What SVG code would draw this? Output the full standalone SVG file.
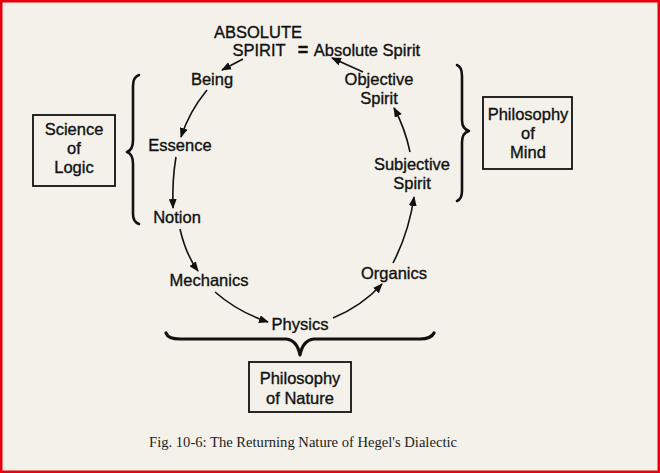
<svg xmlns="http://www.w3.org/2000/svg" width="660" height="473" viewBox="0 0 660 473">
<style>
.t{font-family:"Liberation Sans",Arial,sans-serif;font-size:16.5px;fill:#111;stroke:#111;stroke-width:0.35;text-anchor:middle}
.c{fill:none;stroke:#111;stroke-width:1.6}
.b{fill:none;stroke:#111;stroke-width:2.6;stroke-linecap:round;stroke-linejoin:round}
.box{fill:none;stroke:#111;stroke-width:1.8}
.cap{font-family:"Liberation Serif","Times New Roman",serif;font-size:14.6px;fill:#222;text-anchor:middle}
</style>
<defs>
<marker id="ah" viewBox="0 0 10 8" refX="9" refY="4" markerWidth="10" markerHeight="8" markerUnits="userSpaceOnUse" orient="auto">
<path d="M0,0 L10,4 L0,8 Z" fill="#111"/>
</marker>
</defs>
<rect x="0" y="0" width="660" height="473" fill="#f3f1ea"/>
<rect x="1.25" y="1.25" width="657.5" height="470.5" fill="none" stroke="#e8000b" stroke-width="2.5"/>

<g id="absolute-spirit">
<text class="t" x="258" y="38">ABSOLUTE</text>
<text class="t" x="259" y="56">SPIRIT</text>
<text class="t" x="303" y="56" style="font-weight:bold;font-size:18px">=</text>
<text class="t" x="367" y="56">Absolute Spirit</text>
</g>
<g id="being"><text class="t" x="212" y="85">Being</text></g>
<g id="essence"><text class="t" x="180" y="151">Essence</text></g>
<g id="notion"><text class="t" x="177" y="223">Notion</text></g>
<g id="mechanics"><text class="t" x="209" y="286">Mechanics</text></g>
<g id="physics"><text class="t" x="300" y="330">Physics</text></g>
<g id="organics"><text class="t" x="394" y="279">Organics</text></g>
<g id="subjective-spirit"><text class="t" x="412" y="170">Subjective</text><text class="t" x="412" y="189">Spirit</text></g>
<g id="objective-spirit"><text class="t" x="379" y="85">Objective</text><text class="t" x="379" y="104">Spirit</text></g>

<g id="science-of-logic">
<rect class="box" x="33" y="115" width="82" height="71"/>
<text class="t" x="74" y="135">Science</text>
<text class="t" x="74" y="154">of</text>
<text class="t" x="74" y="173">Logic</text>
</g>
<g id="philosophy-of-mind">
<rect class="box" x="483" y="97" width="89" height="72"/>
<text class="t" x="528" y="120">Philosophy</text>
<text class="t" x="528" y="139">of</text>
<text class="t" x="528" y="158">Mind</text>
</g>
<g id="philosophy-of-nature">
<rect class="box" x="249" y="362" width="102" height="50"/>
<text class="t" x="300" y="384">Philosophy</text>
<text class="t" x="300" y="404">of Nature</text>
</g>

<g id="braces">
<path class="b" d="M139,75 Q133,77 133,86 L133,140 Q133,150 127,152 Q133,154 133,164 L133,214 Q133,222 139,224"/>
<path class="b" d="M457,65 Q462,67 462,76 L462,120 Q462,129 469,131 Q462,133 462,142 L462,191 Q462,199 457,201"/>
<path class="b" d="M166,333 Q168,339 180,339 L286,339 Q297,340 300,355 Q303,340 314,339 L420,339 Q431,339 434,333" style="stroke-width:3.2"/>
</g>

<g id="connectors">
<path class="c" d="M243,59 L222,70" marker-end="url(#ah)"/>
<path class="c" d="M363,72 L332,58" marker-end="url(#ah)"/>
<path class="c" d="M207,90 Q189,112 181,137" marker-end="url(#ah)"/>
<path class="c" d="M176,157 Q172,180 173,208" marker-end="url(#ah)"/>
<path class="c" d="M180,229 Q186,255 198,271" marker-end="url(#ah)"/>
<path class="c" d="M215,292 Q238,312 268,322" marker-end="url(#ah)"/>
<path class="c" d="M333,318 Q362,306 382,284" marker-end="url(#ah)"/>
<path class="c" d="M393,263 Q409,232 414,197" marker-end="url(#ah)"/>
<path class="c" d="M410,152 Q405,128 394,108" marker-end="url(#ah)"/>
</g>

<text class="cap" x="303" y="447">Fig. 10-6: The Returning Nature of Hegel's Dialectic</text>
</svg>
